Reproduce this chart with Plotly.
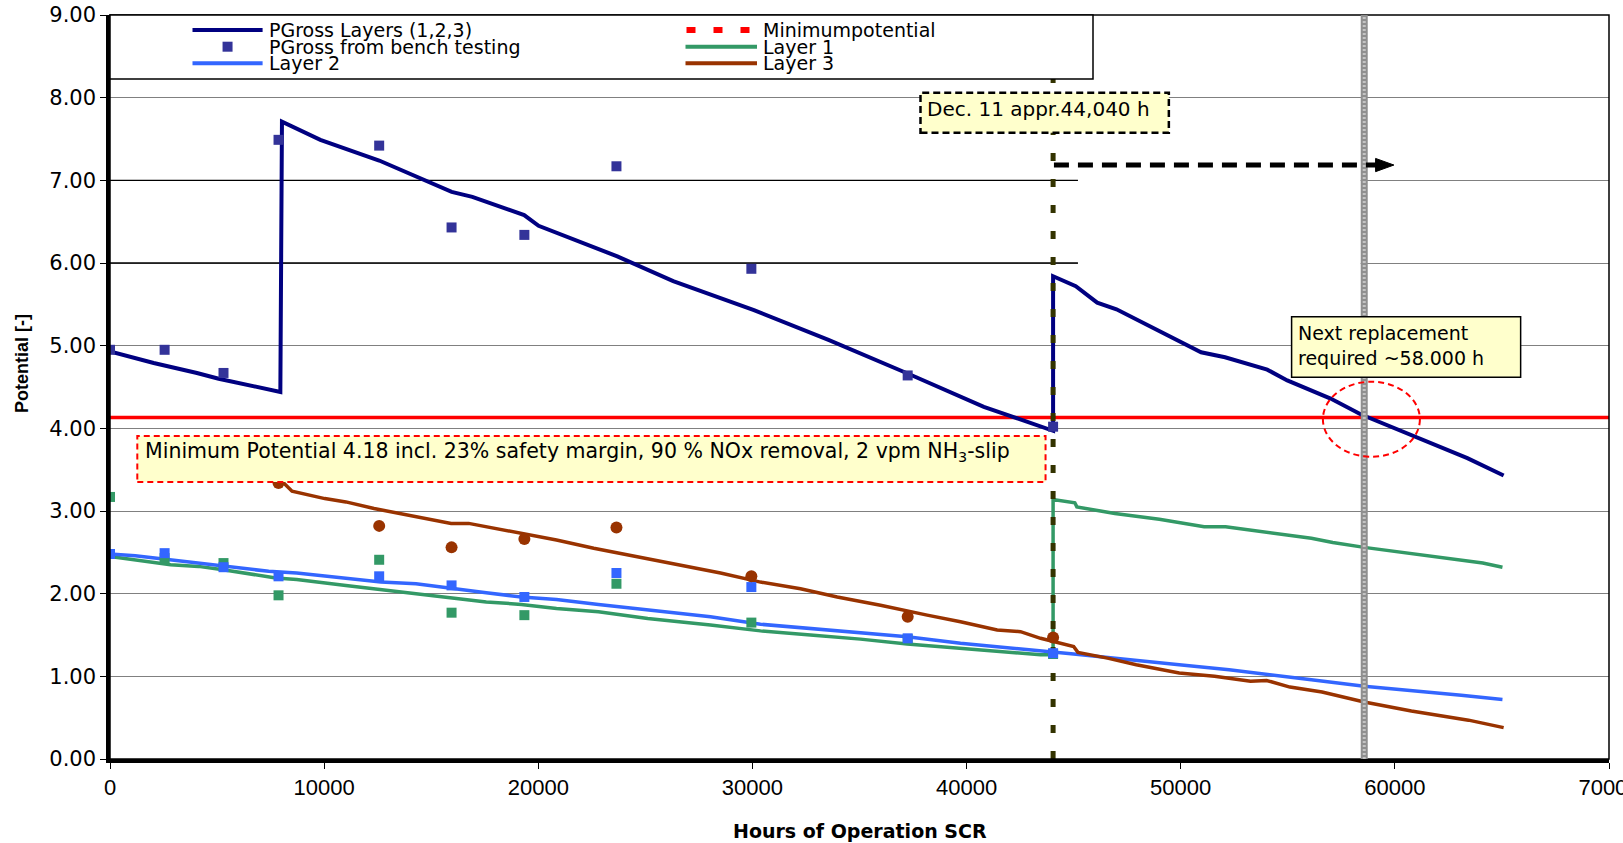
import plotly.graph_objects as go

# ---------------- data ----------------
PG_LINE_H = [0, 2040, 4060, 5075, 7955, 8030, 9823, 12570, 15955, 16920, 19340, 20015,
             23690, 26300, 30070, 33550, 37275, 40805, 44040, 44040, 45100, 46100, 47000,
             48500, 50000, 50950, 52070, 54040, 54975, 57000, 58400, 60890, 63385, 65080]
PG_LINE_V = [4.93, 4.79, 4.67, 4.60, 4.44, 7.71, 7.49, 7.24, 6.86, 6.80, 6.58, 6.45,
             6.08, 5.78, 5.43, 5.07, 4.66, 4.26, 3.97, 5.84, 5.72, 5.52, 5.44,
             5.24, 5.05, 4.92, 4.86, 4.71, 4.58, 4.36, 4.17, 3.90, 3.64, 3.43]

L1_LINE_H = [0, 2830, 4130, 5280, 7740, 8720, 11015, 12650, 14290, 15930, 17570, 19210,
             20850, 22810, 25110, 28040, 30375, 32710, 35045, 37225, 39715, 43455, 44040,
             44040, 45055, 45150, 46925, 49000, 51095, 52095, 56100, 57100, 58570, 64105, 65025]
L1_LINE_V = [2.45, 2.35, 2.33, 2.29, 2.19, 2.17, 2.10, 2.05, 2.00, 1.96, 1.90, 1.87,
             1.82, 1.78, 1.70, 1.62, 1.55, 1.50, 1.45, 1.39, 1.34, 1.26, 1.26,
             3.14, 3.10, 3.05, 2.97, 2.90, 2.81, 2.81, 2.67, 2.62, 2.56, 2.37, 2.32]

L2_LINE_H = [0, 1180, 2490, 4130, 5280, 7410, 8720, 11015, 12650, 14290, 15930, 17570,
             19210, 20850, 22810, 25110, 28040, 30375, 32710, 35045, 37225, 39715, 43455,
             44040, 45000, 49930, 52260, 56100, 58570, 63100, 65025]
L2_LINE_V = [2.48, 2.46, 2.42, 2.37, 2.33, 2.27, 2.25, 2.19, 2.14, 2.12, 2.06, 2.01,
             1.96, 1.93, 1.87, 1.80, 1.72, 1.63, 1.58, 1.53, 1.48, 1.40, 1.31,
             1.29, 1.27, 1.14, 1.08, 0.96, 0.88, 0.77, 0.72]

L3_LINE_H = [8030, 8500, 10030, 11015, 12330, 13470, 14620, 15930, 16750, 17570, 19210,
             20850, 22590, 24150, 26485, 28510, 30375, 32245, 33960, 35980, 38160, 39715,
             41430, 42520, 43455, 44040, 45000, 45200, 46580, 47925, 49930, 51580, 53260,
             54010, 55100, 56600, 58570, 60770, 63440, 65080]
L3_LINE_V = [3.36, 3.24, 3.15, 3.11, 3.03, 2.97, 2.91, 2.85, 2.85, 2.81, 2.73,
             2.65, 2.55, 2.47, 2.35, 2.25, 2.14, 2.06, 1.96, 1.86, 1.74, 1.66,
             1.56, 1.54, 1.46, 1.42, 1.36, 1.29, 1.22, 1.14, 1.04, 1.00, 0.94,
             0.95, 0.87, 0.81, 0.69, 0.58, 0.47, 0.38]

BENCH_H = [0, 2550, 5300, 7870, 12570, 15950, 19350, 23650, 29950, 37250, 44040]
BENCH_PG = [4.95, 4.95, 4.67, 7.49, 7.42, 6.43, 6.34, 7.17, 5.93, 4.64, 4.02]
BENCH_L1 = [3.17, 2.43, 2.37, 1.98, 2.41, 1.77, 1.74, 2.12, 1.65, 1.45, 1.27]
BENCH_L2 = [2.48, 2.49, 2.32, 2.21, 2.21, 2.10, 1.96, 2.25, 2.08, 1.46, 1.28]
BENCH_L3 = [None, None, None, 3.34, 2.82, 2.56, 2.66, 2.80, 2.21, 1.72, 1.47]

MIN_POTENTIAL = 4.13
DEC11_HOURS = 44040
NEXT_REPLACEMENT_HOURS = 58570

X_TICKS = [0, 10000, 20000, 30000, 40000, 50000, 60000, 70000]
X_TICK_TEXT = ["0", "10000", "20000", "30000", "40000", "50000", "60000", "70000"]
Y_TICKS = [0, 1, 2, 3, 4, 5, 6, 7, 8, 9]

LEGEND_COL1 = [("PGross Layers (1,2,3)", "line", "#000080"),
               ("PGross from bench testing", "square", "#333399"),
               ("Layer 2", "line", "#3366FF")]
LEGEND_COL2 = [("Minimumpotential", "dot", "#FF0000"),
               ("Layer 1", "line", "#339966"),
               ("Layer 3", "line", "#993300")]

# ---------------- styling ----------------
NAVY, BENCHC, BLUE, GREEN, BROWN, RED = "#000080", "#333399", "#3366FF", "#339966", "#993300", "#FF0000"
OLIVE = "#333300"
YELLOW = "#FFFFCC"
W, H = 1623, 843
PL, PR, PT, PB = 110, 1609, 15, 759


def pxx(x):
    return (x - PL) / (PR - PL)


def pxy(y):
    return (PB - y) / (PB - PT)


fig = go.Figure()

fig.add_trace(go.Scatter(x=[0, 70000], y=[MIN_POTENTIAL, MIN_POTENTIAL], mode="lines",
                         line=dict(color=RED, width=3.5), name="Minimumpotential", hoverinfo="skip"))
fig.add_trace(go.Scatter(x=PG_LINE_H, y=PG_LINE_V, mode="lines",
                         line=dict(color=NAVY, width=4), name="PGross Layers (1,2,3)"))
fig.add_trace(go.Scatter(x=L1_LINE_H, y=L1_LINE_V, mode="lines",
                         line=dict(color=GREEN, width=3.5), name="Layer 1"))
fig.add_trace(go.Scatter(x=L2_LINE_H, y=L2_LINE_V, mode="lines",
                         line=dict(color=BLUE, width=3.5), name="Layer 2"))
fig.add_trace(go.Scatter(x=L3_LINE_H, y=L3_LINE_V, mode="lines",
                         line=dict(color=BROWN, width=3.5), name="Layer 3"))
fig.add_trace(go.Scatter(x=[DEC11_HOURS, DEC11_HOURS], y=[0, 9.05], mode="lines", cliponaxis=False,
                         line=dict(color=OLIVE, width=5, dash="8px,18px"), name="Dec. 11 appr. 45000 h"))
fig.add_trace(go.Scatter(x=BENCH_H, y=BENCH_L1, mode="markers", name="Layer 1 data point",
                         marker=dict(symbol="square", size=10, color=GREEN)))
fig.add_trace(go.Scatter(x=BENCH_H, y=BENCH_L2, mode="markers", name="Layer 2 data point",
                         marker=dict(symbol="square", size=10, color=BLUE)))
fig.add_trace(go.Scatter(x=BENCH_H, y=BENCH_L3, mode="markers", name="Layer 3 data point",
                         marker=dict(symbol="circle", size=12, color=BROWN)))
fig.add_trace(go.Scatter(x=BENCH_H, y=BENCH_PG, mode="markers", name="PGross from bench testing",
                         marker=dict(symbol="square", size=10, color=BENCHC)))
for tr in fig.data:
    tr.showlegend = False

shapes = []
shapes.append(dict(type="rect", xref="x", yref="y", x0=45200, x1=58400, y0=5.9, y1=7.1,
                   fillcolor="white", line=dict(width=0), layer="between"))
for yv in (6, 7):
    shapes.append(dict(type="line", xref="x", yref="y", x0=0, x1=45200, y0=yv, y1=yv,
                       line=dict(color="black", width=1.3), layer="between"))
shapes.append(dict(type="rect", xref="paper", yref="paper", x0=0, x1=1, y0=0, y1=1,
                   line=dict(color="black", width=1.5), layer="above"))
shapes.append(dict(type="line", xref="x", yref="paper", x0=NEXT_REPLACEMENT_HOURS, x1=NEXT_REPLACEMENT_HOURS,
                   y0=0, y1=1, line=dict(color="#8f8f8f", width=7), layer="above"))
shapes.append(dict(type="line", xref="x", yref="paper", x0=NEXT_REPLACEMENT_HOURS, x1=NEXT_REPLACEMENT_HOURS,
                   y0=0, y1=1, line=dict(color="#c4c4c4", width=3, dash="2px,2px"), layer="above"))
shapes.append(dict(type="circle", xref="x", yref="y", x0=56640, x1=61170, y0=3.656, y1=4.564,
                   line=dict(color=RED, width=2, dash="6px,4px"), layer="above"))
shapes.append(dict(type="line", xref="x", yref="y", x0=44080, x1=59200, y0=7.185, y1=7.185,
                   line=dict(color="black", width=5, dash="15px,9px"), layer="above"))
shapes.append(dict(type="path", xref="x", yref="y",
                   path="M 59100 7.265 L 59956 7.185 L 59100 7.105 Z",
                   fillcolor="black", line=dict(color="black", width=1), layer="above"))
shapes.append(dict(type="rect", xref="x", yref="y", x0=37848, x1=49446, y0=7.576, y1=8.06,
                   fillcolor=YELLOW, line=dict(color="black", width=2.5, dash="7px,4px"), layer="above"))
shapes.append(dict(type="rect", xref="x", yref="y", x0=55178, x1=65874, y0=4.617, y1=5.35,
                   fillcolor=YELLOW, line=dict(color="black", width=1.5), layer="above"))
shapes.append(dict(type="rect", xref="x", yref="y", x0=1275, x1=43688, y0=3.351, y1=3.907,
                   fillcolor=YELLOW, line=dict(color=RED, width=2, dash="6px,4px"), layer="above"))
shapes.append(dict(type="rect", xref="paper", yref="paper", x0=0, x1=pxx(1093), y0=pxy(79), y1=1,
                   fillcolor="white", line=dict(color="black", width=1.5), layer="above"))

annotations = []
FONT = "DejaVu Sans, Verdana, sans-serif"
ROWS_Y = [30, 46.7, 63.3]
for col, (items, sx0, sx1, tx) in enumerate([(LEGEND_COL1, 192.5, 262.6, 267),
                                             (LEGEND_COL2, 685.5, 757, 761)]):
    for i, (name, kind, color) in enumerate(items):
        yy = ROWS_Y[i]
        if kind == "line":
            shapes.append(dict(type="line", xref="paper", yref="paper", x0=pxx(sx0), x1=pxx(sx1),
                               y0=pxy(yy), y1=pxy(yy), line=dict(color=color, width=4), layer="above"))
        elif kind == "square":
            cx = (sx0 + sx1) / 2
            shapes.append(dict(type="rect", xref="paper", yref="paper", x0=pxx(cx - 5), x1=pxx(cx + 5),
                               y0=pxy(yy + 5), y1=pxy(yy - 5), fillcolor=color,
                               line=dict(width=0), layer="above"))
        else:
            shapes.append(dict(type="line", xref="paper", yref="paper", x0=pxx(sx0 + 1), x1=pxx(sx1 - 7),
                               y0=pxy(yy), y1=pxy(yy), line=dict(color=color, width=6, dash="9px,18px"),
                               layer="above"))
        annotations.append(dict(xref="paper", yref="paper", x=pxx(tx), y=pxy(yy), text=name,
                                xanchor="left", yanchor="middle", showarrow=False,
                                font=dict(family=FONT, size=19, color="black")))

annotations.append(dict(xref="x", yref="y", x=38081, y=7.86, text="Dec. 11 appr.44,040 h",
                        xanchor="left", yanchor="middle", showarrow=False,
                        font=dict(family=FONT, size=20, color="black")))
annotations.append(dict(xref="x", yref="y", x=55398, y=5.0, text="Next replacement<br>required ~58.000 h",
                        xanchor="left", yanchor="middle", align="left", showarrow=False,
                        font=dict(family=FONT, size=19, color="black")))
annotations.append(dict(xref="x", yref="y", x=1546, y=3.714,
                        text="Minimum Potential 4.18 incl. 23% safety margin, 90 % NOx removal, 2 vpm NH<sub>3</sub>-slip",
                        xanchor="left", yanchor="middle", showarrow=False,
                        font=dict(family=FONT, size=20.5, color="black")))
annotations.append(dict(xref="paper", yref="paper", x=0.5, y=pxy(831), text="<b>Hours of Operation SCR</b>",
                        xanchor="center", yanchor="middle", showarrow=False,
                        font=dict(family=FONT, size=19, color="black")))
annotations.append(dict(xref="paper", yref="paper", x=pxx(22), y=pxy(364), text="<b>Potential [-]</b>",
                        xanchor="center", yanchor="middle", showarrow=False, textangle=-90,
                        font=dict(family="Liberation Sans, Arial, sans-serif", size=18, color="black")))

fig.update_layout(
    width=W, height=H,
    margin=dict(l=PL, r=W - PR, t=PT, b=H - PB, autoexpand=False),
    paper_bgcolor="white", plot_bgcolor="white",
    showlegend=False,
    shapes=shapes, annotations=annotations,
    xaxis=dict(range=[0, 70000], tickvals=X_TICKS, ticktext=X_TICK_TEXT, showgrid=False,
               zeroline=False, showline=True, linecolor="black", linewidth=3.5,
               ticks="outside", ticklen=6, tickwidth=1.3, tickcolor="black",
               ticklabeloverflow="allow", automargin=False,
               tickfont=dict(family="Liberation Sans, Arial, sans-serif", size=22, color="black")),
    yaxis=dict(range=[0, 9], tickvals=Y_TICKS, tickformat=".2f", showgrid=True,
               gridcolor="#808080", gridwidth=1.3, zeroline=False, showline=True,
               linecolor="black", linewidth=3.5, ticks="outside", ticklen=6, tickwidth=1.3,
               tickcolor="black", automargin=False,
               tickfont=dict(family=FONT, size=21, color="black")),
)

fig.write_html("out.html", config={"displayModeBar": False},
               post_script="document.body.style.margin='0';")
